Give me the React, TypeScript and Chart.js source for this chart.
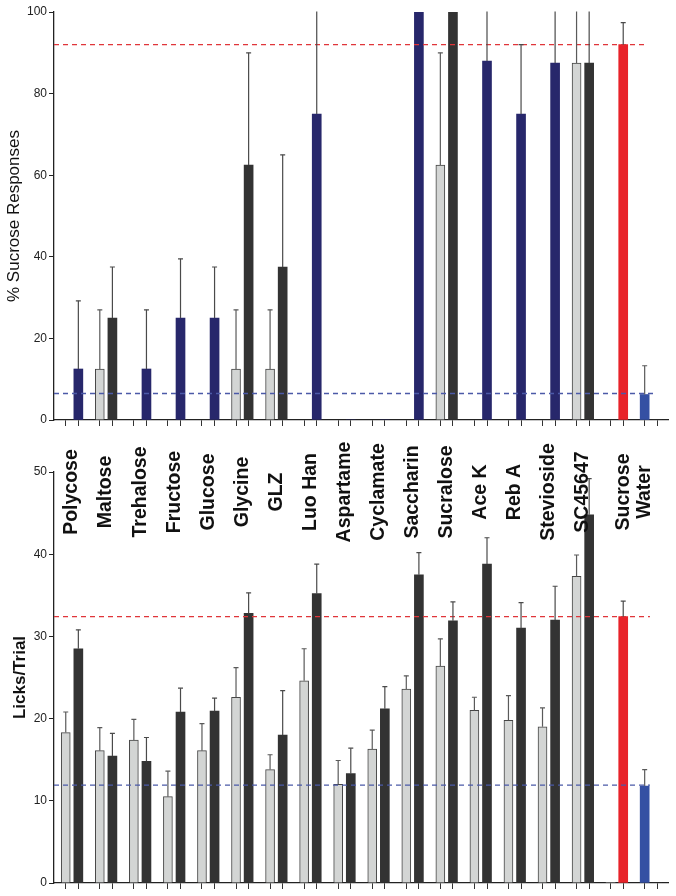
import React, { useEffect, useRef } from 'react';
import { Chart, registerables } from 'chart.js';

Chart.register(...registerables);
Chart.defaults.font.family = '"Liberation Sans", Arial, Helvetica, sans-serif';

// ---------------- DATA ----------------
const categories = [
  'Polycose', 'Maltose', 'Trehalose', 'Fructose', 'Glucose', 'Glycine', 'GLZ', 'Luo Han',
  'Aspartame', 'Cyclamate', 'Saccharin', 'Sucralose', 'Ace K', 'Reb A', 'Stevioside',
  'SC45647', 'Sucrose', 'Water',
];

// Top panel: % Sucrose Responses (light = first bar, dark = second bar)
const topLight = [0, 12.5, 0, 0, 0, 12.5, 12.5, 0, 0, 0, 0, 62.5, 0, 0, 0, 87.5, 0, 6.25];
const topLightErr = [null, 27, null, null, null, 27, 27, null, null, null, null, 90, null, null, null, 112.5, null, 13.3];
const topDark = [12.5, 25, 12.5, 25, 25, 62.5, 37.5, 75, 0, 0, 100, 100, 88, 75, 87.5, 87.5, 92, 0];
const topDarkErr = [29.2, 37.5, 27, 39.5, 37.5, 90, 65, 112.5, null, null, null, null, 112.5, 92, 112.5, 112.5, 97.4, null];
const topSucroseRef = 92;
const topWaterRef = 6.5;
const topYTickStep = 20;
const topYMax = 100;

// Bottom panel: Licks/Trial
const botLight = [18.3, 16.1, 17.4, 10.5, 16.1, 22.6, 13.8, 24.6, 12.0, 16.3, 23.6, 26.4, 21.0, 19.8, 19.0, 37.3, 0, 11.8];
const botLightErr = [20.8, 18.9, 19.9, 13.6, 19.4, 26.2, 15.6, 28.5, 14.9, 18.6, 25.2, 29.7, 22.6, 22.8, 21.3, 39.9, null, 13.8];
const botDark = [28.5, 15.45, 14.8, 20.8, 20.9, 32.8, 18.0, 35.2, 13.3, 21.2, 37.5, 31.9, 38.8, 31.0, 32.0, 44.8, 32.4, 0];
const botDarkErr = [30.8, 18.2, 17.7, 23.7, 22.5, 35.3, 23.4, 38.8, 16.4, 23.9, 40.2, 34.2, 42.0, 34.1, 36.1, 49.2, 34.3, null];
const botSucroseRef = 32.4;
const botWaterRef = 11.9;
const botYTickStep = 10;
const botYMax = 50;

// ---------------- STYLE ----------------
const PAIR_OFFSET = 0.185;
const X_MIN = -0.53;
const X_MAX = 17.5;
const LIGHT = '#d3d5d4';
const LIGHT_BORDER = '#454545';
const DARK = '#333333';
const NAVY = '#27276b';
const RED = '#e8232a';
const BLUE = '#3550a3';
const RED_DASH = '#e0353a';
const BLUE_DASH = '#4b5aa8';
const AXIS = '#222222';

const sucroseIdx = categories.indexOf('Sucrose');
const waterIdx = categories.indexOf('Water');
const slots: number[] = [];
categories.forEach((_, i) => { slots.push(i - PAIR_OFFSET, i + PAIR_OFFSET); });

const errorBarPlugin = {
  id: 'errorBars',
  afterDatasetsDraw(chart: any) {
    const { ctx, chartArea, scales } = chart;
    const y = scales.y;
    ctx.save();
    ctx.beginPath();
    ctx.rect(chartArea.left, chartArea.top - 0.5, chartArea.right - chartArea.left, chartArea.bottom - chartArea.top + 0.5);
    ctx.clip();
    chart.data.datasets.forEach((ds: any, di: number) => {
      if (!ds.errors) return;
      const meta = chart.getDatasetMeta(di);
      meta.data.forEach((el: any, j: number) => {
        const e = ds.errors[j];
        if (e == null) return;
        const top = y.getPixelForValue(e);
        ctx.strokeStyle = ds.errorColor;
        ctx.lineWidth = 1.2;
        ctx.beginPath();
        ctx.moveTo(el.x, el.y);
        ctx.lineTo(el.x, top);
        ctx.stroke();
        ctx.beginPath();
        ctx.moveTo(el.x - 2.5, top);
        ctx.lineTo(el.x + 2.5, top);
        ctx.stroke();
      });
    });
    ctx.restore();
  },
};

const categoryLabelPlugin = {
  id: 'catLabels',
  afterDraw(chart: any, _args: any, opts: any) {
    if (!opts || !opts.show) return;
    const { ctx, chartArea, scales } = chart;
    const x = scales.x;
    ctx.save();
    ctx.font = 'bold 19.5px "Liberation Sans", Arial, Helvetica, sans-serif';
    ctx.fillStyle = '#111';
    ctx.textAlign = 'center';
    ctx.textBaseline = 'middle';
    categories.forEach((name, i) => {
      const used: number[] = [];
      if (opts.light[i]) used.push(i - PAIR_OFFSET);
      if (opts.dark[i]) used.push(i + PAIR_OFFSET);
      const xv = used.length === 1 ? used[0] : i;
      const px = x.getPixelForValue(xv);
      ctx.save();
      ctx.translate(px, chartArea.top + 20);
      ctx.rotate(-Math.PI / 2);
      ctx.fillText(name, 0, 0);
      ctx.restore();
    });
    ctx.restore();
  },
};

function makeConfig(p: any) {
  const lineDs = (y: number, end: number, color: string) => ({
    type: 'line',
    data: [{ x: X_MIN, y }, { x: end, y }],
    borderColor: color,
    borderWidth: 1.3,
    borderDash: [5, 4],
    pointRadius: 0,
    fill: false,
    order: 0,
  });
  return {
    type: 'bar',
    data: {
      datasets: [
        {
          type: 'bar',
          data: p.light.map((v: number, i: number) => ({ x: i - PAIR_OFFSET, y: v })),
          backgroundColor: p.lightColors,
          borderColor: p.lightBorders,
          borderWidth: p.lightBorderWidths,
          barThickness: 9,
          grouped: false,
          errors: p.lightErr,
          errorColor: '#5a5a5a',
          order: 2,
        },
        {
          type: 'bar',
          data: p.dark.map((v: number, i: number) => ({ x: i + PAIR_OFFSET, y: v })),
          backgroundColor: p.darkColors,
          borderWidth: 0,
          barThickness: 9,
          grouped: false,
          errors: p.darkErr,
          errorColor: '#4a4a4a',
          order: 2,
        },
        lineDs(p.sucroseRef, p.redEnd, RED_DASH),
        lineDs(p.waterRef, p.blueEnd, BLUE_DASH),
      ],
    },
    options: {
      responsive: false,
      animation: false,
      events: [],
      layout: { padding: { left: 0, right: 8, top: p.padTop, bottom: 0 } },
      plugins: {
        legend: { display: false },
        tooltip: { enabled: false },
        catLabels: { show: p.showLabels, light: p.light, dark: p.dark },
      },
      scales: {
        x: {
          type: 'linear',
          min: X_MIN,
          max: X_MAX,
          offset: false,
          afterBuildTicks: (s: any) => { s.ticks = slots.map((v) => ({ value: v })); },
          afterFit: (s: any) => { s.height = p.xAxisHeight; },
          ticks: { display: false, autoSkip: false },
          grid: { offset: false, drawOnChartArea: false, drawTicks: true, tickLength: 6, color: '#333', lineWidth: 1 },
          border: { display: true, color: AXIS, width: 1.3 },
        },
        y: {
          type: 'linear',
          min: 0,
          max: p.yMax,
          ticks: { stepSize: p.yStep, color: AXIS, padding: 2, font: { size: 12 } },
          grid: { drawOnChartArea: false, drawTicks: true, tickLength: 5, color: AXIS, lineWidth: 1 },
          border: { display: true, color: AXIS, width: 1.3 },
          title: {
            display: true,
            text: p.title,
            color: '#111',
            font: { size: 17, weight: p.titleBold ? 'bold' : 'normal' },
            padding: { top: p.titlePad, bottom: 0 },
          },
          afterFit: (s: any) => { s.width = 54; },
        },
      },
    },
    plugins: [errorBarPlugin, categoryLabelPlugin],
  };
}

export default function App() {
  const topRef = useRef<HTMLCanvasElement>(null);
  const botRef = useRef<HTMLCanvasElement>(null);

  useEffect(() => {
    const topLightColors = topLight.map((_, i) => (i === waterIdx ? BLUE : LIGHT));
    const topLightBorders = topLight.map((_, i) => (i === waterIdx ? BLUE : LIGHT_BORDER));
    const topLightBW = topLight.map((_, i) => (i === waterIdx ? 0 : 1));
    const topDarkColors = topDark.map((_, i) =>
      i === sucroseIdx ? RED : topLight[i] === 0 ? NAVY : DARK);
    const botLightColors = botLight.map((_, i) => (i === waterIdx ? BLUE : LIGHT));
    const botLightBorders = botLight.map((_, i) => (i === waterIdx ? BLUE : LIGHT_BORDER));
    const botLightBW = botLight.map((v, i) => (i === waterIdx || v === 0 ? 0 : 1));
    const botDarkColors = botDark.map((_, i) => (i === sucroseIdx ? RED : DARK));

    const c1 = new Chart(topRef.current as any, makeConfig({
      light: topLight, lightErr: topLightErr, dark: topDark, darkErr: topDarkErr,
      lightColors: topLightColors, lightBorders: topLightBorders, lightBorderWidths: topLightBW,
      darkColors: topDarkColors,
      sucroseRef: topSucroseRef, waterRef: topWaterRef, redEnd: 16.88, blueEnd: 17.07,
      yMax: topYMax, yStep: topYTickStep, title: '% Sucrose Responses', titleBold: false, titlePad: 4,
      padTop: 12, xAxisHeight: 20, showLabels: false,
    }) as any);
    const c2 = new Chart(botRef.current as any, makeConfig({
      light: botLight, lightErr: botLightErr, dark: botDark, darkErr: botDarkErr,
      lightColors: botLightColors, lightBorders: botLightBorders, lightBorderWidths: botLightBW,
      darkColors: botDarkColors,
      sucroseRef: botSucroseRef, waterRef: botWaterRef, redEnd: 16.97, blueEnd: 16.97,
      yMax: botYMax, yStep: botYTickStep, title: 'Licks/Trial', titleBold: true, titlePad: 10,
      padTop: 32, xAxisHeight: 13, showLabels: true,
    }) as any);
    return () => { c1.destroy(); c2.destroy(); };
  }, []);

  return (
    <div style={{ position: 'absolute', left: 0, top: 0, width: 676, height: 896, background: '#fff' }}>
      <canvas ref={topRef} width={676} height={440} style={{ position: 'absolute', left: 0, top: 0, display: 'block' }} />
      <canvas ref={botRef} width={676} height={456} style={{ position: 'absolute', left: 0, top: 440, display: 'block' }} />
    </div>
  );
}
